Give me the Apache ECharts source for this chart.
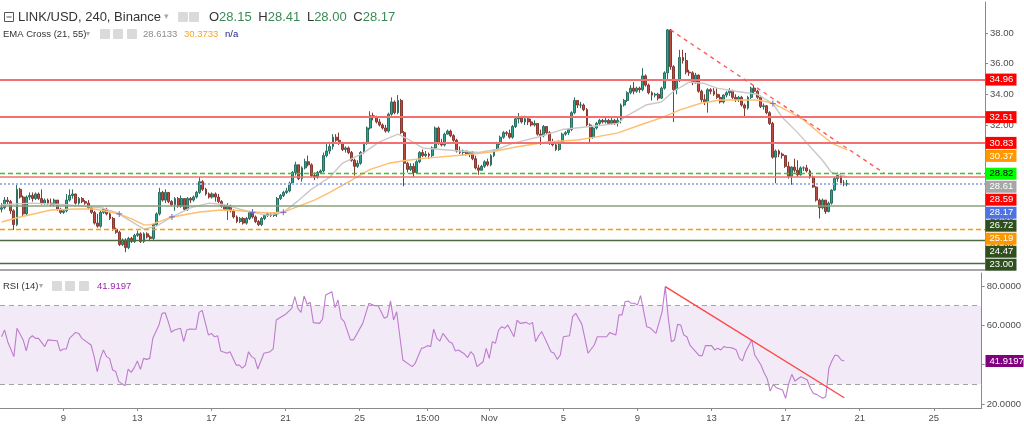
<!DOCTYPE html>
<html><head><meta charset="utf-8">
<script src="https://cdn.jsdelivr.net/npm/echarts@6/dist/echarts.min.js"></script>
<style>html,body{margin:0;padding:0;background:#fff}#c{width:1024px;height:424px}</style>
</head><body><div id="c"></div>
<script>
// ---------------- DATA ----------------
// 4h candles, first candle 2021-10-05 16:00, order per ECharts: [open, close, low, high]
const candleOCLH = [
[26.5,26.6,26.3,26.9],[26.6,27.1,26.5,27.3],[27.1,27.0,26.8,27.3],[27.0,26.4,26.2,27.1],[26.4,25.5,25.15,26.5],
[25.5,27.8,25.4,28.2],[27.8,27.3,27.2,27.9],[27.3,26.2,26.0,27.4],[26.2,27.3,26.1,27.4],[27.3,27.4,27.1,27.6],
[27.4,27.2,27.0,27.6],[27.2,27.5,27.1,27.6],[27.5,27.2,27.1,27.6],[27.2,26.9,26.8,27.8],[26.9,27.1,26.8,27.2],
[27.1,26.9,26.8,27.2],[26.9,26.8,26.7,27.2],[26.8,27.1,26.7,27.2],[27.1,26.5,26.4,27.1],[26.5,26.3,26.2,26.6],
[26.3,26.4,26.2,26.5],[26.4,27.1,26.3,27.5],[27.1,27.4,27.0,27.8],[27.4,27.5,27.2,27.8],[27.5,26.9,26.8,27.5],
[26.9,27.2,26.8,27.3],[27.2,27.0,26.9,27.3],[27.0,26.9,26.8,27.1],[26.9,26.6,26.5,27.1],[26.6,26.3,26.2,26.7],
[26.3,25.6,25.5,26.4],[25.6,25.4,25.3,26.2],[25.4,26.3,25.3,26.4],[26.3,26.5,26.2,26.6],[26.5,26.2,26.1,26.6],
[26.2,25.9,25.8,26.3],[25.9,25.2,25.1,26.0],[25.2,25.0,24.9,25.3],[25.0,24.2,24.1,25.1],[24.2,24.5,24.1,24.6],
[24.5,24.0,23.7,24.6],[24.0,24.6,23.9,24.7],[24.6,24.4,24.3,24.7],[24.4,24.8,24.3,24.9],[24.8,24.9,24.7,25.1],
[24.9,24.4,24.3,25.0],[24.4,24.9,24.3,25.0],[24.9,24.7,24.6,25.0],[24.7,24.6,24.5,24.8],[24.6,25.5,24.5,25.6],
[25.5,26.2,25.4,26.3],[26.2,27.6,26.1,27.9],[27.6,27.1,27.0,27.7],[27.1,27.6,26.9,27.8],[27.6,27.0,26.9,27.6],
[27.0,26.8,26.7,27.1],[26.8,27.2,26.4,27.3],[27.2,26.7,26.6,27.3],[26.7,27.2,26.6,27.4],[27.2,26.5,26.4,27.2],
[26.5,27.2,26.4,27.3],[27.2,27.1,26.9,27.3],[27.1,27.3,27.0,27.4],[27.3,27.6,27.2,27.7],[27.6,28.3,27.5,28.6],
[28.3,27.8,27.7,28.4],[27.8,27.5,27.4,27.9],[27.5,27.3,27.2,27.6],[27.3,27.5,27.2,27.6],[27.5,27.3,27.0,27.6],
[27.3,27.0,26.9,27.5],[27.0,26.7,26.6,27.1],[26.7,26.5,26.4,26.8],[26.5,26.7,25.8,26.9],[26.7,26.4,26.3,26.8],
[26.4,26.0,25.9,26.5],[26.0,25.7,25.6,26.1],[25.7,25.9,25.6,26.0],[25.9,25.6,25.5,26.0],[25.6,25.9,25.5,26.0],
[25.9,26.3,25.8,26.4],[26.3,26.0,25.9,26.5],[26.0,25.7,25.6,26.1],[25.7,25.5,25.4,25.8],[25.5,25.9,25.4,26.0],
[25.9,26.1,25.8,26.2],[26.1,26.2,26.0,26.3],[26.2,26.1,26.0,26.3],[26.1,26.2,26.0,26.3],[26.2,27.2,26.0,27.3],
[27.2,27.4,27.1,27.5],[27.4,27.6,27.3,27.7],[27.6,27.7,27.5,27.9],[27.7,28.2,27.6,28.3],[28.2,28.9,28.1,29.0],
[28.9,29.4,28.7,29.6],[29.4,28.5,28.4,29.4],[28.5,29.2,28.3,29.3],[29.2,29.6,29.1,29.8],[29.6,29.4,29.3,30.0],
[29.4,28.7,28.6,29.5],[28.7,28.6,28.4,28.9],[28.6,28.9,28.5,29.0],[28.9,29.0,28.8,29.1],[29.0,30.0,28.9,30.2],
[30.0,30.3,29.9,30.8],[30.3,30.6,30.1,30.9],[30.6,31.2,30.4,31.4],[31.2,31.0,30.9,31.4],[31.0,30.8,30.7,31.5],
[30.8,30.4,30.3,30.9],[30.4,30.5,30.2,30.6],[30.5,30.2,30.1,30.6],[30.2,29.7,29.6,30.3],[29.7,29.3,28.7,29.8],
[29.3,29.5,29.2,29.7],[29.5,30.2,29.4,30.3],[30.2,30.8,30.1,30.9],[30.8,31.8,30.7,31.9],[31.8,32.6,31.7,32.9],
[32.6,32.5,32.3,32.8],[32.5,32.2,32.1,32.6],[32.2,32.0,31.9,32.4],[32.0,31.8,31.7,32.1],[31.8,31.6,31.5,32.0],
[31.6,32.7,31.5,32.8],[32.7,33.5,32.6,33.8],[33.5,32.8,32.7,33.6],[32.8,33.6,32.7,33.95],[33.6,31.5,31.4,33.7],
[31.5,29.5,28.0,31.6],[29.5,29.1,28.9,29.6],[29.1,29.3,29.0,29.5],[29.3,28.9,28.6,29.5],[28.9,29.6,28.8,29.7],
[29.6,30.2,29.5,30.3],[30.2,30.0,29.9,30.4],[30.0,30.1,29.9,30.3],[30.1,30.0,29.8,30.2],[30.0,30.5,29.9,30.6],
[30.5,31.8,30.4,31.9],[31.8,30.8,30.7,31.9],[30.8,30.7,30.6,31.1],[30.7,31.4,30.6,31.5],[31.4,31.6,31.4,31.7],
[31.6,31.3,31.2,31.7],[31.3,31.0,30.9,31.4],[31.0,30.3,30.2,31.1],[30.3,30.2,30.1,30.6],[30.2,30.3,30.0,30.4],
[30.3,30.1,30.0,30.3],[30.1,30.2,29.9,30.3],[30.2,29.8,29.7,30.3],[29.8,29.2,29.1,30.0],[29.2,29.05,28.75,29.4],
[29.05,29.3,29.0,29.4],[29.3,29.6,29.2,29.7],[29.6,29.4,29.3,29.8],[29.4,30.0,29.3,30.1],[30.0,30.35,29.9,30.4],
[30.35,30.8,30.3,30.9],[30.8,31.2,30.7,31.3],[31.2,31.5,31.1,31.6],[31.5,31.45,31.3,31.6],[31.45,31.2,31.1,31.7],
[31.2,31.9,31.1,32.0],[31.9,32.4,31.8,32.5],[32.4,32.45,32.1,32.78],[32.45,32.2,32.1,32.6],[32.2,32.4,32.0,32.6],
[32.4,32.2,32.0,32.5],[32.2,32.0,31.9,32.4],[32.0,32.1,31.9,32.3],[32.1,31.4,31.3,32.1],[31.4,31.3,30.7,31.7],
[31.3,31.9,31.2,32.0],[31.9,31.5,31.4,31.9],[31.5,30.8,30.7,31.6],[30.8,30.7,30.6,31.1],[30.7,30.4,30.3,30.9],
[30.4,30.9,30.3,31.0],[30.9,31.4,30.8,31.5],[31.4,31.5,31.3,31.6],[31.5,31.7,31.35,31.8],[31.7,32.8,31.6,32.9],
[32.8,33.6,32.7,33.8],[33.6,33.3,33.1,33.6],[33.3,33.3,33.1,33.5],[33.3,33.0,32.9,33.4],[33.0,32.0,31.9,33.1],
[32.0,31.2,30.8,32.1],[31.2,31.8,31.1,31.9],[31.8,32.1,31.7,32.2],[32.1,32.3,32.0,32.4],[32.3,32.2,32.1,32.4],
[32.2,32.3,32.1,32.5],[32.3,32.1,32.0,32.4],[32.1,32.3,32.0,32.5],[32.3,32.1,32.0,32.4],[32.1,32.3,31.9,32.5],
[32.3,33.3,32.1,33.4],[33.3,33.6,33.2,33.7],[33.6,34.1,33.5,34.2],[34.1,34.4,34.0,34.6],[34.4,34.2,34.0,34.8],
[34.2,34.4,34.1,34.5],[34.4,34.3,34.1,34.5],[34.3,35.2,34.2,35.7],[35.2,34.6,34.5,35.3],[34.6,34.1,34.0,34.7],
[34.1,33.95,33.6,34.2],[33.95,34.0,33.8,34.1],[34.0,33.75,33.6,34.1],[33.75,34.4,33.7,34.5],[34.4,35.4,34.3,35.5],
[35.4,38.2,35.0,38.25],[38.2,35.8,35.6,38.25],[35.8,34.3,32.2,35.9],[34.3,34.9,34.0,35.0],[34.9,36.4,34.8,36.9],
[36.4,36.2,36.0,36.9],[36.2,35.45,35.3,36.7],[35.45,35.4,35.2,35.6],[35.4,34.75,34.6,35.5],[34.75,35.25,34.7,35.4],
[35.25,34.2,34.1,35.3],[34.2,33.65,33.5,34.3],[33.65,33.5,33.3,34.0],[33.5,34.3,32.8,34.4],[34.3,34.2,34.0,34.4],
[34.2,34.0,33.9,34.4],[34.0,33.8,33.7,34.4],[33.8,33.5,33.4,34.0],[33.5,33.95,33.4,34.0],[33.95,34.1,33.8,34.2],
[34.1,34.25,33.9,34.4],[34.25,33.8,33.7,34.3],[33.8,33.65,33.5,34.0],[33.65,33.8,33.5,33.9],[33.8,33.3,33.2,33.9],
[33.3,33.1,32.5,33.4],[33.1,33.8,33.0,33.9],[33.8,34.4,33.7,34.5],[34.4,34.2,34.0,34.6],[34.2,33.8,33.7,34.3],
[33.8,33.2,33.1,33.9],[33.2,33.25,33.0,33.4],[33.25,32.8,32.7,33.3],[32.8,32.1,32.0,32.9],[32.1,29.9,29.8,32.2],
[29.9,30.3,28.2,30.4],[30.3,30.1,29.9,30.4],[30.1,30.0,29.8,30.2],[30.0,29.3,29.2,30.0],[29.3,28.65,28.5,29.6],
[28.65,29.25,28.1,29.3],[29.25,29.05,28.9,29.8],[29.05,28.75,28.6,29.7],[28.75,29.2,28.7,29.3],[29.2,29.2,29.0,29.3],
[29.2,29.0,28.9,29.4],[29.0,28.6,28.5,29.1],[28.6,27.95,27.9,28.7],[27.95,27.1,27.0,28.0],[27.1,26.6,25.9,27.2],
[26.6,27.1,26.5,27.2],[27.1,26.35,26.2,27.1],[26.35,26.9,26.3,27.0],[26.9,27.75,26.8,27.8],[27.75,28.5,27.7,28.6],
[28.5,28.7,28.3,28.9],[28.7,28.2,28.1,28.7],[28.2,28.15,28.0,28.4],[28.15,28.17,28.00,28.41]
];
// EMA(21) and EMA(55): [candle index, value]
const ema21 = [[0,26.8],[10,26.9],[21,26.8],[32,26.6],[37,26.3],[42,25.7],[46,25.2],[50,25.4],[55,26.0],[61,26.6],[67,26.9],[72,26.8],[77,26.5],[81,26.3],[86,26.1],[91,26.3],[96,27.1],[100,27.8],[103,28.2],[106,28.6],[110,29.5],[117,30.2],[122,30.9],[128,31.4],[131,31.1],[136,30.5],[142,30.4],[154,30.2],[160,30.4],[165,30.8],[173,31.2],[181,31.7],[190,31.9],[199,32.1],[201,32.5],[208,33.3],[213,33.5],[217,34.2],[222,34.8],[227,34.7],[231,34.4],[237,34.2],[244,34.0],[249,33.4],[252,32.5],[257,31.5],[261,30.6],[265,29.7],[268,28.9],[273,28.6133]];
const ema55 = [[0,25.67],[6,26.0],[16,26.45],[24,26.52],[30,26.52],[35,26.32],[38,26.19],[42,25.87],[46,25.48],[48,25.48],[55,26.0],[64,26.32],[71,26.45],[77,26.4],[81,26.32],[87,26.26],[91,26.32],[96,26.71],[101,27.1],[106,27.6],[113,28.4],[119,29.1],[125,29.5],[131,29.7],[138,29.85],[149,30.04],[158,30.24],[166,30.56],[176,30.89],[186,31.02],[192,31.22],[199,31.48],[208,32.13],[213,32.46],[219,32.98],[226,33.43],[232,33.63],[244,33.63],[249,33.43],[255,32.78],[259,32.33],[264,31.48],[268,30.82],[273,30.3733]];
const emaCrosses = [[38,26.2],[55,26.0],[81,26.3],[91,26.3],[249,33.4]];
// RSI(14): [candle index, value]
const rsi14 = [[0,54.2],[1,57.6],[2,51.7],[4,44.1],[5,58.5],[7,52.6],[8,47.0],[9,53.4],[10,54.7],[11,53.4],[12,53.4],[14,49.2],[15,52.6],[18,52.2],[19,47.0],[20,48.0],[21,48.0],[22,53.4],[24,56.4],[25,55.9],[26,53.4],[29,50.0],[30,44.1],[31,36.5],[32,43.2],[33,47.5],[34,44.1],[35,43.2],[36,37.3],[37,36.5],[38,31.4],[40,29.3],[41,37.8],[42,36.1],[43,38.5],[44,41.9],[45,37.6],[46,43.2],[47,42.7],[48,43.2],[49,53.4],[51,60.2],[52,66.1],[53,66.4],[54,61.9],[55,56.5],[56,57.6],[58,58.5],[59,51.7],[60,57.6],[61,58.1],[63,58.0],[64,66.6],[65,67.6],[67,55.1],[68,55.9],[69,54.2],[70,54.7],[71,47.0],[73,45.8],[74,46.6],[76,39.8],[77,39.8],[78,38.2],[79,39.8],[80,46.6],[81,44.1],[82,43.2],[83,37.8],[85,45.8],[87,46.6],[88,48.0],[89,62.7],[92,65.6],[94,68.6],[95,74.6],[96,68.6],[97,66.6],[98,74.9],[99,70.7],[100,71.7],[101,61.4],[103,61.0],[104,63.2],[105,75.4],[107,77.1],[108,69.0],[109,72.9],[110,63.6],[111,61.9],[113,52.6],[114,52.6],[117,61.0],[119,71.2],[121,70.0],[122,70.0],[124,63.6],[125,64.4],[126,72.4],[127,62.7],[128,66.9],[130,42.4],[133,39.0],[134,40.7],[136,48.3],[137,48.7],[138,49.7],[139,49.2],[140,58.1],[141,53.4],[142,52.0],[143,55.9],[145,51.7],[146,50.9],[147,47.0],[148,47.5],[150,45.4],[151,43.6],[152,46.6],[153,44.9],[154,39.0],[156,41.5],[157,48.3],[158,43.2],[159,51.7],[160,50.9],[161,57.5],[162,59.3],[163,58.5],[164,60.2],[166,54.2],[167,62.7],[168,61.0],[170,61.5],[171,60.5],[172,61.5],[173,51.7],[174,54.7],[175,56.8],[178,46.6],[179,45.8],[180,42.7],[181,44.9],[182,54.2],[184,54.7],[185,64.4],[186,66.1],[188,60.5],[190,45.8],[192,50.0],[193,54.2],[196,54.2],[197,56.3],[199,55.1],[200,65.3],[201,65.3],[202,72.0],[203,72.4],[204,71.2],[205,71.2],[206,70.3],[207,75.1],[209,59.3],[210,58.8],[212,55.9],[214,67.0],[215,79.7],[216,63.6],[217,51.7],[218,52.6],[219,60.5],[220,60.2],[221,55.1],[222,54.2],[223,50.0],[226,44.6],[227,44.6],[228,49.7],[230,49.7],[231,47.5],[232,48.3],[233,47.5],[234,49.2],[235,48.7],[236,48.7],[237,48.3],[238,47.5],[239,43.2],[240,41.9],[241,46.6],[243,52.6],[244,44.9],[246,39.8],[247,36.0],[248,33.0],[249,26.6],[250,30.0],[251,28.3],[253,27.1],[254,22.9],[255,30.5],[256,35.1],[257,31.7],[259,33.9],[261,32.2],[262,28.0],[263,25.4],[264,24.9],[266,22.9],[267,23.7],[268,38.2],[269,42.0],[270,44.9],[271,44.5],[272,42.4],[273,41.9197]];
// Drawn trend lines: [candle index, value]
const priceTrend = [[216,38.2],[285,28.85]];
const rsiTrend = [[215,79.7],[273,23.2]];
// Horizontal levels
const levelValues = [34.96, 32.51, 30.83, 28.82, 28.59, 26.72, 25.19, 24.47, 23.00];
// Axis
const firstCandleUTC = [2021, 9, 5, 16];
const slotCount = 318;
const tickTimes = ['2021-10-09 00:00','2021-10-13 00:00','2021-10-17 00:00','2021-10-21 00:00','2021-10-25 00:00','2021-10-28 16:00','2021-11-01 00:00','2021-11-05 00:00','2021-11-09 00:00','2021-11-13 00:00','2021-11-17 00:00','2021-11-21 00:00','2021-11-25 00:00'];
const tickLabels = ['9','13','17','21','25','15:00','Nov','5','9','13','17','21','25'];
const priceTicks = [24, 26, 28, 30, 32, 34, 36, 38];
const rsiTicks = [20, 40, 60, 80];
const rsiBand = [30, 70];

// ---------------- STYLE ----------------
const FONT = '"Liberation Sans", Arial, sans-serif';
const levelStyles = [
  {color:'#f47070', width:2, type:'solid'},
  {color:'#f47070', width:2, type:'solid'},
  {color:'#f47070', width:2, type:'solid'},
  {color:'#2ecc2e', width:1.4, type:[5,3]},
  {color:'#f47070', width:1.5, type:'solid'},
  {color:'#8ba07f', width:1.6, type:'solid'},
  {color:'#ff9a10', width:1.4, type:[5,3]},
  {color:'#4f6b3f', width:1.3, type:'solid'},
  {color:'#4f6b3f', width:1.3, type:'solid'}
];
const tagBg = {'34.96':'#ff0000','32.51':'#ff0000','30.83':'#ff0000','30.37':'#ff9800','28.82':'#00ff00','28.61':'#a6a6a6','28.59':'#ff0000','28.17':'#4f72e0','26.72':'#2f4f1f','25.19':'#ff9800','24.47':'#2f4f1f','23.00':'#2f4f1f'};

// ---------------- BUILD ----------------
function fmt(t){const d=new Date(t);const p=n=>String(n).padStart(2,'0');
  return d.getUTCFullYear()+'-'+p(d.getUTCMonth()+1)+'-'+p(d.getUTCDate())+' '+p(d.getUTCHours())+':'+p(d.getUTCMinutes());}
const t0 = Date.UTC(firstCandleUTC[0], firstCandleUTC[1], firstCandleUTC[2], firstCandleUTC[3]);
const categories = [];
for (let i = 0; i < slotCount; i++) categories.push(fmt(t0 + i*4*3600*1000));
const tickMap = {}; tickTimes.forEach((t,k)=>{tickMap[t]=tickLabels[k];});
const isTick = (idx, val) => Object.prototype.hasOwnProperty.call(tickMap, val);

const last = candleOCLH[candleOCLH.length-1];
const lastClose = last[1];
const ema21Last = ema21[ema21.length-1][1];
const ema55Last = ema55[ema55.length-1][1];
const rsiLast = rsi14[rsi14.length-1][1];

const chart = echarts.init(document.getElementById('c'));
const axisGray = '#8a8a8a';
const labelStyle = {color:'#4d4d4d', fontSize:9.5, fontFamily:FONT};

chart.setOption({
  animation:false,
  backgroundColor:'#ffffff',
  grid:[{left:0, right:39, top:2, height:268},{left:0, right:39, top:273, height:135}],
  xAxis:[
    {type:'category', gridIndex:0, data:categories, boundaryGap:true,
     axisLine:{show:true, lineStyle:{color:axisGray, width:1.5}}, axisTick:{show:false}, axisLabel:{show:false}, splitLine:{show:false}},
    {type:'category', gridIndex:1, data:categories, boundaryGap:true,
     axisLine:{show:true, lineStyle:{color:axisGray, width:1}},
     axisTick:{show:true, interval:isTick, alignWithLabel:true, length:3, lineStyle:{color:axisGray}},
     axisLabel:Object.assign({interval:isTick, formatter:(v)=>tickMap[v]||'', margin:5}, labelStyle),
     splitLine:{show:false}}
  ],
  yAxis:[
    {type:'value', gridIndex:0, position:'right', min:22.54, max:40.02, scale:true,
     axisLine:{show:true, lineStyle:{color:axisGray}},
     axisTick:{show:true, length:3, customValues:priceTicks, lineStyle:{color:axisGray}},
     axisLabel:Object.assign({customValues:priceTicks, formatter:(v)=>v.toFixed(2), margin:5}, labelStyle),
     splitLine:{show:false}},
    {type:'value', gridIndex:1, position:'right', min:17.98, max:86.61,
     axisLine:{show:true, lineStyle:{color:axisGray}},
     axisTick:{show:true, length:3, customValues:rsiTicks, lineStyle:{color:axisGray}},
     axisLabel:Object.assign({customValues:rsiTicks, formatter:(v)=>v.toFixed(4), margin:5}, labelStyle),
     splitLine:{show:false}}
  ],
  series:[
    {type:'candlestick', xAxisIndex:0, yAxisIndex:0, data:candleOCLH, barWidth:2.4,
     itemStyle:{color:'#2aa58e', color0:'#bd4a40', borderColor:'#2a6f60', borderColor0:'#873a31', borderWidth:1},
     markLine:{silent:true, symbol:['none','none'], label:{show:false},
       data: levelValues.map((v,k)=>({yAxis:v, lineStyle:levelStyles[k]})).concat([{yAxis:lastClose, lineStyle:{color:'#9fb3ee', width:2, type:[2,2]}}])
     }, z:3},
    {type:'line', xAxisIndex:0, yAxisIndex:0, data:ema21, symbol:'none', lineStyle:{color:'#c9c9c9', width:1.4}, z:4},
    {type:'line', xAxisIndex:0, yAxisIndex:0, data:ema55, symbol:'none', lineStyle:{color:'#ffbd6e', width:1.4}, z:4},
    {type:'scatter', xAxisIndex:0, yAxisIndex:0, data:emaCrosses, symbol:'path://M4,0H6V4H10V6H6V10H4V6H0V4H4Z', symbolSize:6, itemStyle:{color:'#6a5fcf'}, z:5},
    {type:'line', xAxisIndex:0, yAxisIndex:0, data:priceTrend, symbol:'none', lineStyle:{color:'#ff5a5a', width:1.4, type:[4,4]}, z:5},
    {type:'line', xAxisIndex:1, yAxisIndex:1, data:rsi14, symbol:'none', lineStyle:{color:'#bd7ccd', width:1.1}, z:4,
     markArea:{silent:true, itemStyle:{color:'rgba(150,60,180,0.11)'}, data:[[{yAxis:rsiBand[0]},{yAxis:rsiBand[1]}]]},
     markLine:{silent:true, symbol:['none','none'], label:{show:false}, lineStyle:{color:'#a3a3a3', width:1, type:[5,4]},
       data:[{yAxis:rsiBand[0]},{yAxis:rsiBand[1]}]}},
    {type:'line', xAxisIndex:1, yAxisIndex:1, data:rsiTrend, symbol:'none', lineStyle:{color:'#ff4545', width:1.4}, z:5}
  ]
});

// -------- overlays: legends and value tags --------
const g = [];
function icon(x, y, s){ g.push({type:'rect', shape:{x:x, y:y, width:s, height:s, r:1}, style:{fill:'#dadada'}, z:100, silent:true}); }
// title line
g.push({type:'rect', shape:{x:4.5, y:12.5, width:9, height:9}, style:{fill:'none', stroke:'#555', lineWidth:1}, z:100});
g.push({type:'line', shape:{x1:6.5, y1:17, x2:11.5, y2:17}, style:{stroke:'#555', lineWidth:1}, z:100});
g.push({type:'text', x:18, y:17, style:{text:'LINK/USD, 240, Binance', font:'13px '+FONT, fill:'#333', verticalAlign:'middle'}, z:100});
g.push({type:'text', x:164, y:17, style:{text:'▾', font:'9px '+FONT, fill:'#aaa', verticalAlign:'middle'}, z:100});
icon(178, 12, 10); icon(189, 12, 10);
const ohlcText = [['O', last[0]], ['H', last[3]], ['L', last[2]], ['C', last[1]]].map(p=>'{l|'+p[0]+'}{v|'+p[1].toFixed(2)+'}').join('  ');
g.push({type:'text', x:209, y:17, style:{text:ohlcText, verticalAlign:'middle',
  rich:{l:{font:'13px '+FONT, fill:'#333'}, v:{font:'13px '+FONT, fill:'#3b8a55'}}}, z:100});
// EMA legend
g.push({type:'text', x:3, y:34, style:{text:'EMA Cross (21, 55)', font:'9.5px '+FONT, fill:'#333', verticalAlign:'middle'}, z:100});
g.push({type:'text', x:86, y:34, style:{text:'▾', font:'8px '+FONT, fill:'#aaa', verticalAlign:'middle'}, z:100});
icon(100, 29, 10); icon(113, 29, 10); icon(127, 29, 10);
g.push({type:'text', x:143, y:34, style:{text:'{a|'+ema21Last.toFixed(4)+'}  {b|'+ema55Last.toFixed(4)+'}  {c|n/a}', verticalAlign:'middle',
  rich:{a:{font:'9.5px '+FONT, fill:'#8c8c8c'}, b:{font:'9.5px '+FONT, fill:'#f5a623'}, c:{font:'9.5px '+FONT, fill:'#232383'}}}, z:100});
// RSI legend
g.push({type:'text', x:3, y:286, style:{text:'RSI (14)', font:'9.5px '+FONT, fill:'#333', verticalAlign:'middle'}, z:100});
g.push({type:'text', x:39, y:286, style:{text:'▾', font:'8px '+FONT, fill:'#aaa', verticalAlign:'middle'}, z:100});
icon(52, 281, 10); icon(65, 281, 10); icon(79, 281, 10);
g.push({type:'text', x:97, y:286, style:{text:rsiLast.toFixed(4), font:'9.5px '+FONT, fill:'#9c27b0', verticalAlign:'middle'}, z:100});

// price tags on the right axis (stacked so they do not overlap)
const tagValues = levelValues.concat([ema55Last, ema21Last, lastClose]).map(v=>+v.toFixed(2)).sort((a,b)=>b-a);
const TAG_H = 12, TAG_STEP = 13;
let prevY = -1e9;
tagValues.forEach(v=>{
  let y = chart.convertToPixel({yAxisIndex:0}, v);
  if (y < prevY + TAG_STEP) y = prevY + TAG_STEP;
  prevY = y;
  const key = v.toFixed(2);
  const bg = tagBg[key] || '#888';
  const fg = key === '28.82' ? '#000' : '#fff';
  g.push({type:'rect', shape:{x:985.5, y:y - TAG_H/2, width:31, height:TAG_H}, style:{fill:bg}, z:110});
  g.push({type:'text', x:989.5, y:y, style:{text:key, font:'9.5px '+FONT, fill:fg, verticalAlign:'middle'}, z:111});
});
const ry = chart.convertToPixel({yAxisIndex:1}, rsiLast);
g.push({type:'rect', shape:{x:985.5, y:ry - TAG_H/2, width:38, height:TAG_H}, style:{fill:'#800080'}, z:110});
g.push({type:'text', x:989.5, y:ry, style:{text:rsiLast.toFixed(4), font:'9.5px '+FONT, fill:'#fff', verticalAlign:'middle'}, z:111});

chart.setOption({graphic:{elements:g}});
</script>
</body></html>
